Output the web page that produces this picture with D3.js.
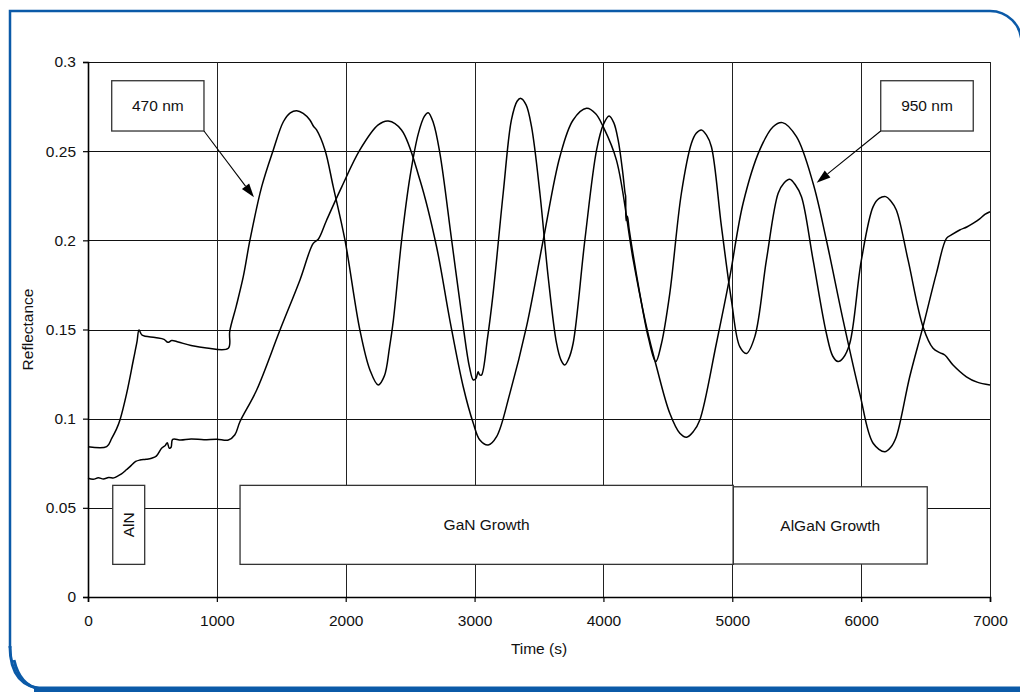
<!DOCTYPE html>
<html><head><meta charset="utf-8">
<script src="https://cdn.jsdelivr.net/npm/d3@7"></script>
<style>body{margin:0;background:#fff}svg{display:block}text{font-family:"Liberation Sans",Arial,Helvetica,sans-serif}</style>
</head><body><svg id="c" width="1020" height="692"></svg>
<script>
const xTicks=[0,1000,2000,3000,4000,5000,6000,7000];
const yTicks=[0,0.05,0.1,0.15,0.2,0.25,0.3];
const yTickLabels=["0","0.05","0.1","0.15","0.2","0.25","0.3"];
const xTitle="Time (s)";
const yTitle="Reflectance";

const time470=[0,145,184,220,248,300,352,380,396,420,520,590,620,650,700,800,920,1089,1100,1150,1205,1257,1348,1438,1516,1570,1619,1670,1722,1750,1774,1839,1903,1994,2110,2188,2252,2300,2340,2370,2434,2499,2564,2610,2640,2680,2731,2822,2912,2960,2990,3010,3028,3040,3054,3100,3144,3222,3286,3330,3359,3400,3442,3507,3571,3636,3670,3700,3730,3765,3856,3947,4000,4044,4080,4114,4150,4168,4172,4176,4186,4200,4282,4350,4406,4450,4515,4605,4683,4720,4760,4800,4838,4916,4993,5058,5110,5175,5265,5356,5400,5446,5490,5537,5627,5730,5780,5821,5860,5912,6002,6093,6140,6191,6230,6273,6364,6480,6558,6610,6649,6713,6817,6900,7000];
const refl470=[0.0843,0.0843,0.089,0.094,0.0993,0.1142,0.1329,0.143,0.1497,0.1468,0.1455,0.1445,0.1428,0.1438,0.1430,0.1410,0.1396,0.1395,0.1490,0.1630,0.1796,0.2002,0.2301,0.2507,0.2665,0.2715,0.2727,0.2712,0.2675,0.2640,0.2619,0.2507,0.2301,0.2002,0.1497,0.1273,0.1189,0.1240,0.1400,0.1553,0.2002,0.2357,0.2600,0.2695,0.2716,0.2660,0.2488,0.2002,0.1516,0.1290,0.1217,0.1225,0.1263,0.1245,0.1245,0.1450,0.1703,0.2264,0.2675,0.2780,0.2796,0.2760,0.2637,0.2264,0.1796,0.1423,0.1330,0.1301,0.1335,0.1423,0.2002,0.2507,0.2650,0.2697,0.2660,0.2563,0.2380,0.2264,0.2250,0.2110,0.2135,0.2060,0.1703,0.1450,0.1320,0.1420,0.1703,0.2264,0.2544,0.2600,0.2619,0.2590,0.2525,0.2077,0.1665,0.1404,0.1366,0.1460,0.1890,0.2264,0.2320,0.2342,0.2310,0.2245,0.1890,0.1479,0.1350,0.1320,0.1340,0.1423,0.1890,0.2189,0.2235,0.2245,0.2220,0.2170,0.1890,0.1516,0.1395,0.1370,0.1357,0.1301,0.1235,0.1205,0.1189];

const time950=[0,40,80,120,160,200,222,260,300,326,370,403,450,494,530,571,600,615,631,645,657,720,800,900,1000,1089,1140,1179,1309,1490,1645,1748,1787,1850,1970,2110,2252,2330,2433,2576,2705,2808,2912,2990,3041,3106,3171,3274,3403,3533,3662,3765,3869,3940,3998,4101,4231,4334,4412,4515,4593,4645,4700,4748,4877,4981,5084,5213,5317,5389,5498,5627,5730,5860,5989,6093,6183,6230,6273,6377,6480,6584,6662,6700,6765,6820,6868,6920,6960,7000];
const refl950=[0.0666,0.0660,0.0668,0.0662,0.0670,0.0668,0.0675,0.0690,0.0715,0.0731,0.0760,0.0768,0.0772,0.0778,0.0790,0.0834,0.0850,0.0865,0.0834,0.0840,0.0884,0.0880,0.0886,0.0882,0.0885,0.0880,0.0910,0.0983,0.1161,0.1497,0.1778,0.1983,0.2006,0.2110,0.2301,0.2507,0.2647,0.2669,0.2619,0.2338,0.1964,0.1553,0.1179,0.0974,0.0880,0.0852,0.0899,0.1142,0.1516,0.2002,0.2469,0.2675,0.2740,0.2710,0.2637,0.2450,0.1890,0.1516,0.1291,0.1030,0.0918,0.0896,0.0930,0.0993,0.1423,0.1796,0.2208,0.2507,0.2637,0.2660,0.2581,0.2320,0.2002,0.1553,0.1142,0.0862,0.0815,0.0840,0.0899,0.1235,0.1516,0.1815,0.2011,0.2030,0.2058,0.2075,0.2095,0.2120,0.2145,0.2160];

const calloutLabels=["470 nm","950 nm"];
const phaseLabels=["AlN","GaN Growth","AlGaN Growth"];

const svg=d3.select("#c");
const m={l:88,r:990,t:62,b:597};
const x=d3.scaleLinear().domain([0,7000]).range([m.l,m.r]);
const y=d3.scaleLinear().domain([0,0.3]).range([m.b,m.t]);
const FS=15.5;

// outer blue frame
const blue="#0b5aa8";
svg.append("path").attr("d","M10,648 V11 H990 A31.5,31.5 0 0 1 1021.5,42.5 V700")
  .attr("fill","none").attr("stroke",blue).attr("stroke-width",2.5);
svg.append("path").attr("d","M10,646 Q10,688 46,689").attr("fill","none").attr("stroke",blue).attr("stroke-width",3);
svg.append("path").attr("d","M14,660 Q20,686 40,689").attr("fill","none").attr("stroke",blue).attr("stroke-width",3);
svg.append("rect").attr("x",34).attr("y",686.5).attr("width",1000).attr("height",6).attr("fill",blue);

// gridlines
const g=svg.append("g");
g.selectAll("line.h").data(yTicks.slice(1)).join("line")
  .attr("x1",m.l).attr("x2",m.r).attr("y1",d=>Math.round(y(d))+0.5).attr("y2",d=>Math.round(y(d))+0.5)
  .attr("stroke","#111").attr("stroke-width",1);
g.selectAll("line.v").data(xTicks.slice(1)).join("line")
  .attr("y1",m.t).attr("y2",m.b).attr("x1",d=>Math.round(x(d))+0.5).attr("x2",d=>Math.round(x(d))+0.5)
  .attr("stroke","#222").attr("stroke-width",1);

// axes
const xAxis=d3.axisBottom(x).tickValues(xTicks).tickFormat(d3.format("d")).tickSize(5).tickPadding(13);
const yAxis=d3.axisLeft(y).tickValues(yTicks).tickFormat((d,i)=>yTickLabels[i]).tickSize(5).tickPadding(7);
const gx=svg.append("g").attr("transform",`translate(0,${m.b})`).call(xAxis);
const gy=svg.append("g").attr("transform",`translate(${m.l},0)`).call(yAxis);
[gx,gy].forEach(a=>{
  a.select(".domain").attr("stroke","#000").attr("stroke-width",1.6);
  a.selectAll(".tick line").attr("stroke","#000").attr("stroke-width",1.2);
  a.selectAll(".tick text").attr("fill","#111").style("font-size",FS+"px").style("font-family",'"Liberation Sans",Arial,sans-serif');
});

svg.append("text").attr("x",(m.l+m.r)/2).attr("y",654).attr("text-anchor","middle")
  .style("font-size",FS+"px").attr("fill","#111").text(xTitle);
svg.append("text").attr("transform",`translate(33,${(m.t+m.b)/2}) rotate(-90)`).attr("text-anchor","middle")
  .style("font-size",FS+"px").attr("fill","#111").text(yTitle);

// curves
const line=d3.line().x(d=>x(d[0])).y(d=>y(d[1])).curve(d3.curveCatmullRom.alpha(0.5));
const s470=time470.map((t,i)=>[t,refl470[i]]);
const s950=time950.map((t,i)=>[t,refl950[i]]);
[s470,s950].forEach(s=>{
  svg.append("path").datum(s).attr("d",line).attr("fill","none").attr("stroke","#000")
    .attr("stroke-width",1.5).attr("stroke-linejoin","round");
});

// boxes
function box(t0,t1,v0,v1,label,rot){
  const x0=x(t0),x1=x(t1),y0=y(v0),y1=y(v1);
  svg.append("rect").attr("x",x0).attr("y",y0).attr("width",x1-x0).attr("height",y1-y0)
    .attr("fill","#fff").attr("stroke","#333").attr("stroke-width",1.3);
  const cx=(x0+x1)/2, cy=(y0+y1)/2;
  const t=svg.append("text").attr("text-anchor","middle").attr("dominant-baseline","central")
    .style("font-size",FS+"px").attr("fill","#111").text(label);
  if(rot) t.attr("transform",`translate(${cx},${cy}) rotate(-90)`);
  else t.attr("x",cx).attr("y",cy);
}
function arrow(t0,v0,t1,v1){
  const x0=x(t0),y0=y(v0),x1=x(t1),y1=y(v1);
  const a=Math.atan2(y1-y0,x1-x0), L=14, Wd=4.5;
  const bx=x1-L*Math.cos(a), by=y1-L*Math.sin(a);
  svg.append("line").attr("x1",x0).attr("y1",y0).attr("x2",bx).attr("y2",by).attr("stroke","#000").attr("stroke-width",1.1);
  const p=[[x1,y1],[bx+Wd*Math.sin(a),by-Wd*Math.cos(a)],[bx-Wd*Math.sin(a),by+Wd*Math.cos(a)]];
  svg.append("polygon").attr("points",p.map(q=>q.join(",")).join(" ")).attr("fill","#000");
}
box(184,900,0.2895,0.2613,calloutLabels[0]);
arrow(900,0.2613,1288,0.2241);
box(6152,6870,0.2895,0.2613,calloutLabels[1]);
arrow(6152,0.2613,5655,0.2323);
box(192,440,0.0626,0.0183,phaseLabels[0],true);
box(1180,5008,0.0626,0.0183,phaseLabels[1]);
box(5008,6513,0.0618,0.0185,phaseLabels[2]);
</script></body></html>
